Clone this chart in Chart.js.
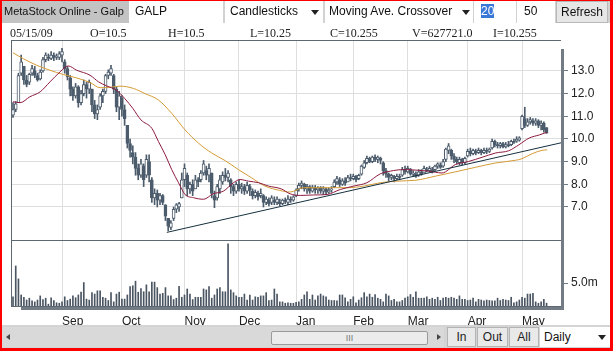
<!DOCTYPE html>
<html>
<head>
<meta charset="utf-8">
<script src="https://cdn.jsdelivr.net/npm/chart.js@4.4.1/dist/chart.umd.min.js"></script>
<style>
html, body { margin: 0; padding: 0; background: #fff; }
#wrap { position: relative; width: 613px; height: 351px; overflow: hidden; background: #fff;
        font-family: "Liberation Sans", Arial, sans-serif; color: #111; }
#c { position: absolute; left: 0; top: 0; }
.abs { position: absolute; box-sizing: border-box; white-space: nowrap; }
.tb { top: 1px; height: 22px; line-height: 21px; font-size: 12px; }
.white { background: #fff; }
.arrow { position: absolute; top: 9px; width: 0; height: 0; border-left: 4px solid transparent;
         border-right: 4px solid transparent; border-top: 5px solid #222; }
.info { top: 26px; font-family: "Liberation Serif", "Times New Roman", serif; font-size: 12px; line-height: 14px; color: #222; }
.btn { top: 327px; height: 20px; line-height: 19px; font-size: 12px; text-align: center;
       background: #e9e9e9; border: 1px solid #b4b4b4; color: #222; }
#frame { position: absolute; left: 0; top: 0; width: 613px; height: 351px; box-sizing: border-box;
         border-style: solid; border-color: #ff0000; border-width: 1px 3px 3px 2px; pointer-events: none; }
</style>
</head>
<body>
<div id="wrap">
  <canvas id="c" width="613" height="351"></canvas>

  <!-- toolbar -->
  <div class="abs tb" style="left:2px;width:608px;background:#d2d2d2;"></div>
  <div class="abs tb" style="left:2px;width:127px;background:#c3c3c3;font-size:11px;padding-left:2px;">MetaStock Online - Galp</div>
  <div class="abs tb white" style="left:129px;width:94px;padding-left:6px;">GALP</div>
  <div class="abs tb white" style="left:225px;width:98px;padding-left:5px;">Candlesticks<span class="arrow" style="left:86px;"></span></div>
  <div class="abs tb white" style="left:325px;width:148px;padding-left:4px;">Moving Ave. Crossover<span class="arrow" style="left:137px;"></span></div>
  <div class="abs tb white" style="left:474px;width:42px;padding-left:7px;"><span style="background:#3a78d8;color:#fff;">20</span></div>
  <div class="abs tb white" style="left:517px;width:38px;padding-left:7px;">50</div>
  <div class="abs tb" style="left:556px;width:52px;background:#e6e6e6;border:1px solid #b8b8b8;text-align:center;">Refresh</div>

  <!-- info line -->
  <div class="abs info" style="left:10px;">05/15/09</div>
  <div class="abs info" style="left:90px;">O=10.5</div>
  <div class="abs info" style="left:168px;">H=10.5</div>
  <div class="abs info" style="left:250px;">L=10.25</div>
  <div class="abs info" style="left:330px;">C=10.255</div>
  <div class="abs info" style="left:412px;">V=627721.0</div>
  <div class="abs info" style="left:493px;">I=10.255</div>

  <!-- bottom bar -->
  <div class="abs" style="left:2px;top:325px;width:608px;height:24px;background:#d4d4d4;"></div>
  <div class="abs" style="left:2px;top:327px;width:442px;height:20px;background:#d9d9d9;"></div>
  <div class="abs" style="left:6px;top:334px;width:0;height:0;border-top:3px solid transparent;border-bottom:3px solid transparent;border-right:4px solid #444;"></div>
  <div class="abs" style="left:271px;top:331px;width:157px;height:14px;background:#ececec;border:1px solid #9a9a9a;border-radius:2px;font-size:9px;line-height:12px;text-align:center;color:#777;">III</div>
  <div class="abs" style="left:437px;top:334px;width:0;height:0;border-top:3px solid transparent;border-bottom:3px solid transparent;border-left:4px solid #444;"></div>
  <div class="abs btn" style="left:447px;width:29px;">In</div>
  <div class="abs btn" style="left:477px;width:31px;">Out</div>
  <div class="abs btn" style="left:509px;width:30px;">All</div>
  <div class="abs" style="left:540px;top:327px;width:70px;height:20px;line-height:20px;font-size:12px;background:#fff;padding-left:4px;">Daily<span class="arrow" style="left:58px;top:8px;"></span></div>

  <div id="frame"></div>
</div>

<script>
// month ticks on the date axis (bar index of first trading day)
const monthLabels = ["Sep", "Oct", "Nov", "Dec", "Jan", "Feb", "Mar", "Apr", "May"];
const monthStart  = [18, 40, 63, 83, 104, 125, 145, 167, 187];
const priceTicks  = [7, 8, 9, 10, 11, 12, 13];
const volumeTicks = [5];

// daily bars, Aug 2008 - 15 May 2009
const opens = [
  11.05, 11.3, 11.6, 12.9, 13.2, 12.6, 12.5, 12.9, 13.0, 12.8,
  12.65, 13.0, 13.5, 13.6, 13.55, 13.7, 13.6, 13.6, 13.7, 13.4,
  13.1, 12.7, 12.2, 11.9, 12.3, 11.6, 12.0, 12.4, 12.2, 12.2,
  11.5, 11.1, 11.4, 11.9, 12.1, 12.8, 12.9, 12.8, 12.2, 11.4,
  11.8, 11.3, 10.6, 9.8, 9.4, 9.2, 8.7, 8.4, 8.8, 8.4,
  9.0, 8.2, 7.4, 7.6, 7.3, 7.5, 7.1, 6.5, 6.1, 6.5,
  6.9, 7.0, 7.4, 8.2, 8.4, 7.8, 8.0, 7.8, 8.2, 8.2,
  8.5, 8.6, 8.4, 8.5, 7.5, 7.4, 7.8, 8.1, 8.4, 8.3,
  8.2, 7.9, 7.7, 8.0, 7.8, 7.9, 7.7, 7.9, 7.7, 7.5,
  7.6, 7.5, 7.5, 7.2, 7.3, 7.2, 7.3, 7.2, 7.2, 7.15,
  7.3, 7.2, 7.35, 7.3, 7.5, 7.8, 7.95, 8.0, 7.8, 7.9,
  7.7, 7.85, 7.75, 7.85, 7.7, 7.8, 7.65, 7.75, 7.9, 8.1,
  8.2, 8.0, 8.15, 8.1, 8.3, 8.25, 8.35, 8.25, 8.45, 8.75,
  8.95, 9.15, 9.0, 9.2, 9.1, 9.15, 8.95, 8.6, 8.45, 8.3,
  8.35, 8.25, 8.35, 8.4, 8.65, 8.55, 8.65, 8.45, 8.45, 8.4,
  8.55, 8.5, 8.65, 8.6, 8.65, 8.65, 8.8, 8.85, 8.8, 9.1,
  9.5, 9.5, 9.25, 9.1, 8.95, 9.1, 8.95, 9.25, 9.45, 9.35,
  9.45, 9.4, 9.5, 9.4, 9.5, 9.45, 9.6, 9.9, 9.75, 9.7,
  9.8, 9.65, 9.75, 9.75, 9.9, 9.9, 9.95, 10.45, 10.9, 10.6,
  10.75, 10.8, 10.7, 10.8, 10.6, 10.7, 10.5
];
const highs = [
  11.6, 11.65, 12.9, 13.7, 13.2, 12.8, 12.9, 13.25, 13.2, 12.9,
  13.05, 13.6, 13.8, 13.75, 13.85, 13.8, 13.75, 13.85, 14.0, 13.5,
  13.2, 12.8, 12.3, 12.45, 12.35, 12.15, 12.6, 12.5, 12.6, 12.2,
  11.7, 11.5, 12.0, 12.2, 12.85, 13.05, 13.25, 12.85, 12.3, 12.1,
  11.9, 11.5, 10.6, 10.0, 9.7, 9.4, 8.9, 9.1, 8.9, 9.3,
  9.3, 8.3, 7.8, 7.75, 7.6, 7.55, 7.1, 6.5, 6.4, 7.0,
  7.15, 7.2, 8.5, 8.9, 8.5, 8.1, 8.2, 8.4, 8.3, 8.6,
  9.05, 8.8, 8.9, 8.5, 7.7, 8.0, 8.4, 8.55, 8.7, 8.6,
  8.25, 8.0, 8.1, 8.2, 8.05, 8.0, 8.1, 8.0, 7.8, 7.75,
  7.7, 7.8, 7.55, 7.45, 7.4, 7.5, 7.45, 7.45, 7.35, 7.35,
  7.4, 7.5, 7.45, 7.5, 7.8, 8.05, 8.15, 8.05, 8.0, 7.95,
  7.95, 7.95, 7.9, 7.9, 7.9, 7.85, 7.85, 7.9, 8.2, 8.35,
  8.3, 8.25, 8.3, 8.4, 8.45, 8.45, 8.4, 8.45, 8.85, 9.05,
  9.25, 9.2, 9.25, 9.3, 9.25, 9.2, 9.0, 8.7, 8.5, 8.45,
  8.4, 8.45, 8.45, 8.75, 8.8, 8.8, 8.7, 8.6, 8.55, 8.65,
  8.65, 8.8, 8.75, 8.8, 8.75, 8.85, 8.95, 8.95, 9.1, 9.6,
  9.8, 9.55, 9.35, 9.2, 9.2, 9.15, 9.2, 9.55, 9.6, 9.55,
  9.55, 9.6, 9.55, 9.6, 9.6, 9.6, 10.0, 9.95, 9.85, 9.85,
  9.85, 9.85, 9.9, 9.95, 10.0, 10.1, 10.1, 11.05, 11.4, 10.9,
  10.95, 10.9, 10.9, 10.85, 10.8, 10.75, 10.5
];
const lows = [
  10.95, 11.2, 11.6, 12.8, 12.4, 12.3, 12.4, 12.8, 12.7, 12.55,
  12.6, 12.95, 13.4, 13.45, 13.5, 13.45, 13.5, 13.5, 13.4, 12.9,
  12.6, 11.9, 11.7, 11.8, 11.4, 11.5, 11.9, 11.8, 12.0, 11.2,
  10.9, 10.85, 11.3, 11.6, 12.0, 12.65, 12.8, 12.0, 11.2, 10.85,
  11.0, 10.6, 9.6, 9.2, 8.9, 8.4, 8.2, 8.3, 7.9, 8.3,
  8.1, 7.2, 7.1, 7.0, 7.1, 7.1, 6.4, 5.95, 6.0, 6.4,
  6.75, 6.8, 7.4, 7.9, 7.5, 7.6, 7.5, 7.8, 7.9, 8.1,
  8.4, 8.2, 8.1, 7.4, 6.97, 7.3, 7.6, 8.0, 8.15, 8.1,
  7.6, 7.5, 7.6, 7.7, 7.6, 7.55, 7.6, 7.5, 7.35, 7.4,
  7.3, 7.4, 7.0, 7.1, 7.05, 7.1, 7.1, 7.1, 7.05, 7.1,
  7.15, 7.1, 7.2, 7.25, 7.45, 7.7, 7.8, 7.7, 7.6, 7.6,
  7.65, 7.6, 7.6, 7.6, 7.55, 7.55, 7.6, 7.65, 7.85, 8.0,
  7.9, 7.95, 7.95, 8.1, 8.15, 8.2, 8.1, 8.2, 8.4, 8.7,
  8.9, 8.95, 8.95, 9.0, 8.95, 8.9, 8.4, 8.3, 8.15, 8.2,
  8.1, 8.2, 8.2, 8.35, 8.45, 8.5, 8.4, 8.35, 8.3, 8.35,
  8.4, 8.5, 8.55, 8.55, 8.5, 8.6, 8.7, 8.7, 8.75, 9.0,
  9.35, 9.1, 8.95, 8.9, 8.85, 8.85, 8.9, 9.2, 9.25, 9.3,
  9.3, 9.35, 9.3, 9.35, 9.35, 9.4, 9.55, 9.65, 9.6, 9.6,
  9.6, 9.6, 9.65, 9.7, 9.8, 9.85, 9.9, 10.4, 10.5, 10.55,
  10.65, 10.6, 10.6, 10.5, 10.4, 10.3, 10.25
];
const closes = [
  11.3, 11.55, 12.8, 13.4, 12.6, 12.4, 12.85, 13.1, 12.8, 12.6,
  12.95, 13.5, 13.7, 13.55, 13.7, 13.6, 13.65, 13.75, 13.85, 13.1,
  12.75, 12.2, 11.9, 12.3, 11.6, 12.0, 12.4, 12.2, 12.5, 11.5,
  11.1, 11.3, 11.9, 12.1, 12.8, 12.95, 13.1, 12.2, 11.4, 11.9,
  11.3, 10.9, 9.8, 9.5, 9.2, 8.7, 8.4, 8.9, 8.2, 9.1,
  8.4, 7.4, 7.6, 7.3, 7.5, 7.2, 6.6, 6.15, 6.3, 6.9,
  7.1, 7.15, 8.2, 8.7, 7.8, 8.0, 7.7, 8.2, 8.1, 8.5,
  8.9, 8.4, 8.7, 7.6, 7.3, 7.9, 8.2, 8.4, 8.3, 8.5,
  7.9, 7.7, 8.0, 7.8, 7.9, 7.7, 7.95, 7.75, 7.5, 7.65,
  7.45, 7.6, 7.2, 7.35, 7.15, 7.4, 7.2, 7.35, 7.15, 7.3,
  7.25, 7.35, 7.3, 7.45, 7.75, 7.95, 8.05, 7.8, 7.9, 7.7,
  7.85, 7.75, 7.85, 7.7, 7.8, 7.65, 7.75, 7.8, 8.1, 8.25,
  8.0, 8.15, 8.05, 8.3, 8.25, 8.35, 8.2, 8.4, 8.8, 8.95,
  9.15, 9.0, 9.2, 9.1, 9.2, 9.05, 8.6, 8.45, 8.3, 8.4,
  8.25, 8.35, 8.3, 8.65, 8.55, 8.7, 8.45, 8.5, 8.35, 8.55,
  8.45, 8.7, 8.6, 8.7, 8.6, 8.8, 8.9, 8.75, 9.0, 9.55,
  9.7, 9.25, 9.1, 9.0, 9.1, 8.95, 9.15, 9.45, 9.35, 9.5,
  9.4, 9.5, 9.4, 9.5, 9.45, 9.55, 9.9, 9.75, 9.7, 9.8,
  9.65, 9.75, 9.7, 9.9, 9.85, 10.0, 10.05, 11.0, 10.6, 10.75,
  10.85, 10.7, 10.8, 10.6, 10.7, 10.4, 10.255
];
// volume in millions of shares
const volumes = [
  2.0, 8.7, 5.9, 2.4, 1.9, 1.3, 1.7, 1.1, 0.9, 1.3,
  2.2, 1.4, 1.7, 0.4, 1.8, 1.2, 0.7, 0.6, 0.9, 2.0,
  1.2, 1.5, 2.2, 1.8, 2.4, 3.0, 5.1, 1.5, 1.3, 2.9,
  2.6, 3.3, 3.3, 1.9, 1.7, 1.2, 2.9, 0.9, 2.6, 3.0,
  1.5, 1.5, 2.4, 4.2, 4.4, 5.4, 3.0, 3.8, 3.1, 4.6,
  3.1, 5.2, 5.2, 4.0, 2.6, 2.75, 4.0, 2.2, 2.2, 1.4,
  1.7, 4.3, 1.9, 2.4, 3.7, 2.6, 1.4, 1.9, 1.9, 1.9,
  3.7, 3.5, 4.2, 1.7, 2.4, 3.7, 4.0, 3.1, 3.1, 13.5,
  3.5, 2.9, 2.2, 1.9, 1.9, 2.6, 1.3, 2.4, 1.3, 2.0,
  1.9, 2.2, 2.2, 2.9, 1.2, 1.3, 3.7, 2.6, 0.9, 0.9,
  0.6, 0.7, 0.6, 0.6, 0.8, 0.9, 1.45, 2.4, 3.1, 1.45,
  2.4, 1.3, 2.2, 2.6, 2.2, 2.0, 1.3, 1.2, 1.2, 1.1,
  2.4, 2.4, 1.8, 0.9, 1.45, 2.0, 0.7, 1.3, 1.8, 2.9,
  2.0, 2.6, 1.9, 2.5, 1.7, 1.45, 0.9, 2.6, 2.2, 1.2,
  1.45, 0.9, 0.9, 1.2, 1.7, 2.0, 2.5, 1.9, 3.1, 1.7,
  1.7, 1.7, 2.0, 1.45, 1.7, 1.45, 1.9, 1.2, 1.7, 1.9,
  1.7, 1.9, 1.7, 1.45, 2.2, 1.45, 1.45, 1.2, 1.3, 1.7,
  0.9, 1.45, 1.3, 1.1, 1.3, 1.2, 1.1, 1.1, 1.7, 1.2,
  1.45, 1.3, 1.2, 1.9, 0.7, 0.9, 1.3, 1.9, 1.7, 2.6,
  2.6, 2.75, 0.9, 0.6, 0.9, 1.45, 0.63
];

// 20-day and 50-day averages at these bar positions
const ma20Idx = [0, 2.6, 6.2, 10, 13.6, 17.3, 20.3, 23.4, 28.3, 31.4, 34.4, 38, 41, 44, 47, 51, 53.4, 55.9, 58.3, 60.8,
                 63.2, 66.3, 70, 73.5, 77.3, 81, 83.4, 86.5, 90.2, 93.9, 98.5, 101.8, 105.5, 110.4, 115.3, 120.2, 125.1, 130, 134.9, 138.6,
                 143.5, 148.7, 152.7, 157.6, 162.5, 167.4, 172.3, 177.2, 182.1, 185.8, 189.6, 193.4, 196.2];
const ma20Val = [11.64, 11.6, 11.86, 12.08, 12.52, 12.96, 13.22, 13.03, 12.81, 12.52, 12.34, 12.15, 11.79, 11.35, 10.84, 10.47, 9.89, 9.31, 8.65, 8.07,
                 7.55, 7.41, 7.34, 7.58, 7.7, 8.07, 8.21, 8.14, 8.07, 7.92, 7.8, 7.58, 7.51, 7.53, 7.55, 7.77, 7.92, 8.07, 8.46, 8.58,
                 8.65, 8.62, 8.58, 8.5, 8.87, 9.01, 9.19, 9.38, 9.48, 9.74, 10.04, 10.18, 10.3];
const ma50Idx = [0, 3.8, 8.7, 13.6, 18.5, 23.4, 28.3, 32, 35.7, 39.3, 44.2, 48.5, 53.4, 58.3, 63.2, 68.1, 73, 78, 82.8, 87.7,
                 92.6, 98, 101.8, 106.7, 111.6, 116.5, 122.7, 128.8, 134.9, 141, 148, 155.2, 162.5, 169.9, 177.2, 184.6, 187, 190.7, 194.4, 196.2];
const ma50Val = [13.8, 13.54, 13.25, 13.03, 12.84, 12.69, 12.49, 12.26, 12.28, 12.33, 12.23, 12.0, 11.72, 11.13, 10.4, 9.82, 9.38, 9.04, 8.65, 8.28,
                 7.92, 7.73, 7.66, 7.85, 7.85, 7.85, 7.85, 7.92, 8.07, 8.14, 8.18, 8.36, 8.55, 8.75, 8.94, 9.06, 9.13, 9.35, 9.5, 9.52];
// support trend line
const trendIdx = [56.5, 201.3];
const trendVal = [5.88, 9.83];

const CANDLE = "#4c5c6c";
const GRID = "#dedede";
const TICK = "#707a84";

const idx = closes.map((_, i) => i);
const pts = (xs, ys) => xs.map((x, k) => ({ x, y: ys[k] }));

// frame, panel divider and the drop shadow of the plot box
const framePlugin = {
    id: "frame",
    afterDatasetsDraw(chart) {
        const { ctx, chartArea: a, scales } = chart;
        const split = Math.round(scales.y.bottom);
        ctx.save();
        ctx.fillStyle = "#5d6873";
        ctx.fillRect(a.left - 1, a.top - 1, a.right - a.left + 1, 1);
        ctx.fillRect(a.left - 1, a.top - 1, 1, a.bottom - a.top + 1);
        ctx.fillRect(a.left, split, a.right - a.left, 1);
        ctx.fillRect(a.left - 1, a.bottom, a.right - a.left + 1, 1);
        ctx.fillStyle = "#737c85";
        ctx.fillRect(a.right, a.top + 8, 3, a.bottom - a.top - 4);
        ctx.fillRect(a.left + 9, a.bottom + 1, a.right - a.left - 6, 3);
        ctx.restore();
    }
};

Chart.defaults.font.family = "'Liberation Sans', Arial, sans-serif";
Chart.defaults.font.size = 12;
Chart.defaults.color = "#222";

new Chart(document.getElementById("c"), {
    data: {
        datasets: [
            { type: "line", label: "Trend", data: pts(trendIdx, trendVal), borderColor: "#15303f", borderWidth: 1, pointRadius: 0, yAxisID: "y", order: 0 },
            { type: "line", label: "MA20", data: pts(ma20Idx, ma20Val), borderColor: "#8e1b3f", borderWidth: 1, pointRadius: 0, cubicInterpolationMode: "monotone", yAxisID: "y", order: 1 },
            { type: "line", label: "MA50", data: pts(ma50Idx, ma50Val), borderColor: "#d49b34", borderWidth: 1, pointRadius: 0, cubicInterpolationMode: "monotone", yAxisID: "y", order: 2 },
            { type: "bar", label: "Body", data: idx.map(i => ({ x: i, y: [opens[i], closes[i]] })),
              backgroundColor: idx.map(i => closes[i] >= opens[i] ? "#ffffff" : CANDLE),
              borderColor: CANDLE, borderWidth: 1, borderSkipped: false, barThickness: 3, grouped: false, yAxisID: "y", order: 4 },
            { type: "bar", label: "Wick", data: idx.map(i => ({ x: i, y: [lows[i], highs[i]] })),
              backgroundColor: CANDLE, barThickness: 1, grouped: false, yAxisID: "y", order: 5 },
            { type: "bar", label: "Volume", data: idx.map(i => ({ x: i, y: volumes[i] })),
              backgroundColor: "#4a5562", barThickness: 1, grouped: false, yAxisID: "yv", order: 6 }
        ]
    },
    options: {
        responsive: false,
        animation: false,
        events: [],
        layout: { padding: { left: 12, top: 41, right: 0, bottom: 21 } },
        plugins: { legend: { display: false }, tooltip: { enabled: false } },
        scales: {
            x: {
                type: "linear", min: -0.37, max: 201.3, offset: false,
                grid: { color: GRID, drawTicks: false, offset: false },
                border: { display: false },
                afterBuildTicks: s => { s.ticks = monthStart.map(v => ({ value: v })); },
                afterFit: s => { s.height = 24; s.paddingLeft = 0; s.paddingRight = 0; },
                ticks: { align: "start", padding: 8, autoSkip: false, maxRotation: 0, minRotation: 0,
                         callback: (v, i) => monthLabels[i] }
            },
            y: {
                type: "linear", position: "right", stack: "panels", stackWeight: 199,
                min: 5.544, max: 14.32,
                grid: { color: GRID, tickColor: TICK, tickLength: 7 },
                border: { display: false },
                afterBuildTicks: s => { s.ticks = priceTicks.map(v => ({ value: v })); },
                afterFit: s => { s.width = 52; s.paddingTop = 0; s.paddingBottom = 0; },
                ticks: { padding: 3, callback: v => v.toFixed(1) }
            },
            yv: {
                type: "linear", position: "right", stack: "panels", stackWeight: 66,
                min: 0, max: 14.35,
                grid: { drawOnChartArea: false, tickColor: TICK, tickLength: 7 },
                border: { display: false },
                afterBuildTicks: s => { s.ticks = volumeTicks.map(v => ({ value: v })); },
                afterFit: s => { s.width = 52; s.paddingTop = 0; s.paddingBottom = 0; },
                ticks: { padding: 3, callback: v => v.toFixed(1) + "m" }
            }
        }
    },
    plugins: [framePlugin]
});
</script>
</body>
</html>
